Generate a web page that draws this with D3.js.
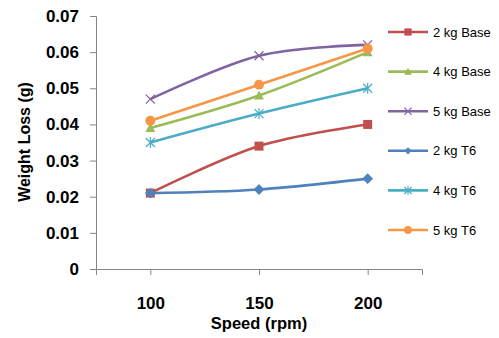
<!DOCTYPE html>
<html>
<head>
<meta charset="UTF-8">
<style>
  body { margin: 0; background: #fff; }
  svg { font-family: "Liberation Sans", Arial, sans-serif; }
</style>
</head>
<body>
<script src="https://d3js.org/d3.v7.min.js"></script>
<script>
  const speeds = [100, 150, 200];
  const seriesNames = ["2 kg Base", "4 kg Base", "5 kg Base", "2 kg T6", "4 kg T6", "5 kg T6"];
  const base2 = [0.021, 0.034, 0.040];
  const base4 = [0.039, 0.048, 0.060];
  const base5 = [0.047, 0.059, 0.062];
  const t6_2 = [0.021, 0.022, 0.025];
  const t6_4 = [0.035, 0.043, 0.050];
  const t6_5 = [0.041, 0.051, 0.061];
  const yTicks = [0, 0.01, 0.02, 0.03, 0.04, 0.05, 0.06, 0.07];

  const series = [
    {name: seriesNames[0], values: base2, color: "#C0504D", marker: "square"},
    {name: seriesNames[1], values: base4, color: "#9BBB59", marker: "triangle"},
    {name: seriesNames[2], values: base5, color: "#8064A2", marker: "x"},
    {name: seriesNames[3], values: t6_2, color: "#4F81BD", marker: "diamond"},
    {name: seriesNames[4], values: t6_4, color: "#4BACC6", marker: "star"},
    {name: seriesNames[5], values: t6_5, color: "#F79646", marker: "circle"}
  ];

  const width = 499, height = 338;
  const svg = d3.select("body").append("svg").attr("width", width).attr("height", height);

  const x = d3.scaleLinear().domain([75, 225]).range([96, 422]);
  const y = d3.scaleLinear().domain([0, 0.07]).range([269, 16]);
  const axisColor = "#868686";

  // y axis
  const yAxis = svg.append("g").attr("transform", "translate(96,0)")
    .call(d3.axisLeft(y).tickValues(yTicks).tickSize(6).tickPadding(11)
      .tickFormat(d => d === 0 ? "0" : d3.format(".2f")(d)));
  yAxis.select(".domain").attr("stroke", axisColor);
  yAxis.selectAll(".tick line").attr("stroke", axisColor);
  yAxis.selectAll("text").attr("font-size", 17).attr("font-weight", "bold").attr("fill", "#000");

  // x axis
  const xAxis = svg.append("g").attr("transform", "translate(0,269)")
    .call(d3.axisBottom(x).tickValues(speeds).tickSize(6).tickSizeOuter(6).tickPadding(22));
  xAxis.select(".domain").attr("stroke", axisColor);
  xAxis.selectAll(".tick line").attr("stroke", axisColor);
  xAxis.selectAll("text").attr("font-size", 17).attr("font-weight", "bold").attr("fill", "#000");

  // axis titles
  svg.append("text").attr("x", 259).attr("y", 329).attr("text-anchor", "middle")
    .attr("font-size", 16.5).attr("font-weight", "bold").text("Speed (rpm)");
  svg.append("text").attr("transform", "translate(30,142) rotate(-90)").attr("text-anchor", "middle")
    .attr("font-size", 16).attr("font-weight", "bold").text("Weight Loss (g)");

  function drawMarker(g, type, color, cx, cy, s) {
    if (type === "square") {
      g.append("rect").attr("x", cx - s).attr("y", cy - s).attr("width", 2 * s).attr("height", 2 * s).attr("fill", color);
    } else if (type === "triangle") {
      g.append("path").attr("d", `M${cx},${cy - s * 1.1}L${cx + s * 1.1},${cy + s * 0.9}L${cx - s * 1.1},${cy + s * 0.9}Z`).attr("fill", color);
    } else if (type === "diamond") {
      g.append("path").attr("d", `M${cx},${cy - s * 1.2}L${cx + s * 1.2},${cy}L${cx},${cy + s * 1.2}L${cx - s * 1.2},${cy}Z`).attr("fill", color);
    } else if (type === "circle") {
      g.append("circle").attr("cx", cx).attr("cy", cy).attr("r", s * 1.1).attr("fill", color);
    } else if (type === "x") {
      g.append("path").attr("d", `M${cx - s},${cy - s}L${cx + s},${cy + s}M${cx - s},${cy + s}L${cx + s},${cy - s}`)
        .attr("stroke", color).attr("stroke-width", 1.2);
    } else if (type === "star") {
      g.append("path").attr("d", `M${cx - s},${cy - s}L${cx + s},${cy + s}M${cx - s},${cy + s}L${cx + s},${cy - s}M${cx},${cy - s * 1.2}L${cx},${cy + s * 1.2}`)
        .attr("stroke", color).attr("stroke-width", 1.2);
    }
  }

  const line = d3.line().x((d, i) => x(speeds[i])).y(d => y(d)).curve(d3.curveCatmullRom.alpha(0));

  series.forEach(s => {
    const g = svg.append("g");
    g.append("path").datum(s.values).attr("d", line)
      .attr("fill", "none").attr("stroke", s.color).attr("stroke-width", 2.6);
    s.values.forEach((v, i) => drawMarker(g, s.marker, s.color, x(speeds[i]), y(v), 4.5));
  });

  // legend
  const legend = svg.append("g");
  series.forEach((s, i) => {
    const ly = 32 + i * 39.6;
    const g = legend.append("g");
    g.append("line").attr("x1", 388).attr("x2", 428).attr("y1", ly).attr("y2", ly)
      .attr("stroke", s.color).attr("stroke-width", 2.6);
    drawMarker(g, s.marker, s.color, 408, ly, s.marker === "diamond" ? 3 : 3.6);
    g.append("text").attr("x", 433).attr("y", ly).attr("dy", "0.35em")
      .attr("font-size", 13).attr("fill", "#000").text(s.name);
  });
</script>
</body>
</html>
